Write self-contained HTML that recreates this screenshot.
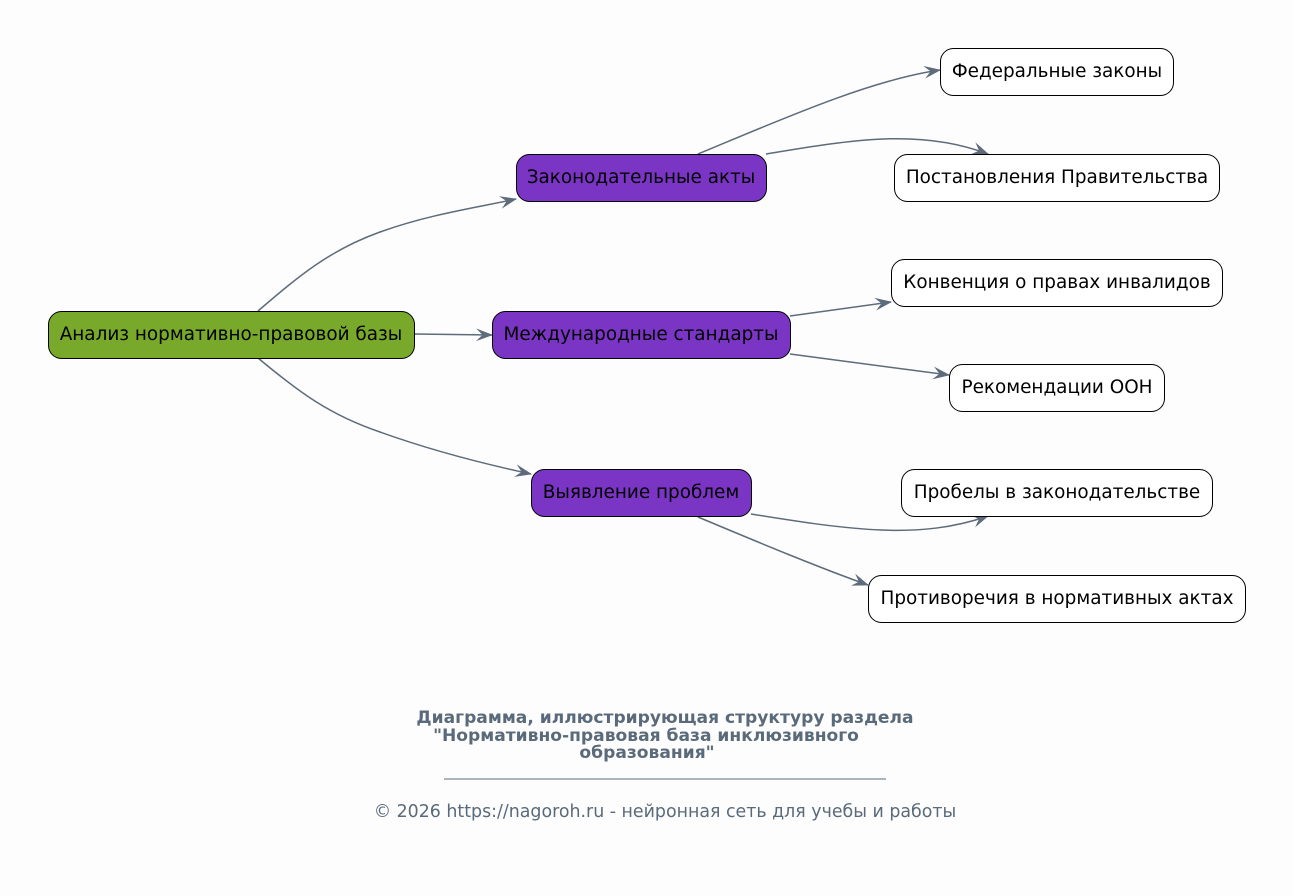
<!DOCTYPE html>
<html><head><meta charset="utf-8"><style>
html,body{margin:0;padding:0;background:#fdfdfd;}
svg{display:block;font-family:"DejaVu Sans","Liberation Sans",sans-serif;}
</style></head><body>
<svg width="1293" height="896" viewBox="0 0 1293 896" xmlns="http://www.w3.org/2000/svg">
<defs>
<marker id="a" viewBox="0 0 16 12" refX="15" refY="6" markerWidth="17" markerHeight="13" markerUnits="userSpaceOnUse" orient="auto">
<path d="M0,0 L16,6 L0,12 L6,6 z" fill="#5d6b7a"/>
</marker>
</defs>
<rect width="1293" height="896" fill="#fdfdfd"/>
<g fill="none" stroke="#5d6b7a" stroke-width="1.5" marker-end="url(#a)">
<path d="M258,311 C300,275 330,250 380,232 C430,214 480,207 516,199"/>
<path d="M414,334 L492,335"/>
<path d="M258,358 C300,393 330,415 380,432 C430,450 480,463 531,474"/>
<path d="M698,154 C780,120 870,80 940,70"/>
<path d="M766,154 C850,140 920,128 988,154"/>
<path d="M790,316 L891,302"/>
<path d="M790,354 L949,375"/>
<path d="M751,514 C850,530 920,540 988,516"/>
<path d="M698,517 C760,543 820,568 868,585"/>
</g>
<g stroke="#000" stroke-width="1">
<rect x="48.5" y="311.5" width="366" height="47" rx="13" fill="#78a92a"/>
<rect x="516.5" y="154.5" width="250" height="47" rx="13" fill="#7b35c5"/>
<rect x="492.5" y="311.5" width="298" height="47" rx="13" fill="#7b35c5"/>
<rect x="531.5" y="469.5" width="220" height="47" rx="13" fill="#7b35c5"/>
<rect x="940.5" y="48.5" width="233" height="47" rx="13" fill="#fff"/>
<rect x="894.5" y="154.5" width="325" height="47" rx="13" fill="#fff"/>
<rect x="891.5" y="259.5" width="331" height="47" rx="13" fill="#fff"/>
<rect x="949.5" y="364.5" width="215" height="47" rx="13" fill="#fff"/>
<rect x="901.5" y="469.5" width="311" height="47" rx="13" fill="#fff"/>
<rect x="868.5" y="575.5" width="377" height="47" rx="13" fill="#fff"/>
</g>
<g font-size="18.4" fill="#000" text-anchor="middle">
<text x="231" y="340">Анализ нормативно-правовой базы</text>
<text x="641" y="183">Законодательные акты</text>
<text x="641" y="340">Международные стандарты</text>
<text x="641" y="498">Выявление проблем</text>
<text x="1057" y="77">Федеральные законы</text>
<text x="1057" y="183">Постановления Правительства</text>
<text x="1057" y="288">Конвенция о правах инвалидов</text>
<text x="1057" y="393">Рекомендации ООН</text>
<text x="1057" y="498">Пробелы в законодательстве</text>
<text x="1057" y="604">Противоречия в нормативных актах</text>
</g>
<g fill="#5a6a7a" text-anchor="middle">
<text x="665" y="723" font-size="17.1" font-weight="bold">Диаграмма, иллюстрирующая структуру раздела</text>
<text x="646" y="741" font-size="17.1" font-weight="bold">"Нормативно-правовая база инклюзивного</text>
<text x="647" y="758" font-size="17.1" font-weight="bold">образования"</text>
<line x1="444" y1="779" x2="886" y2="779" stroke="#5a6a7a" stroke-width="1"/>
<text x="665" y="817" font-size="17.4">© 2026 https://nagoroh.ru - нейронная сеть для учебы и работы</text>
</g>
</svg>
</body></html>
